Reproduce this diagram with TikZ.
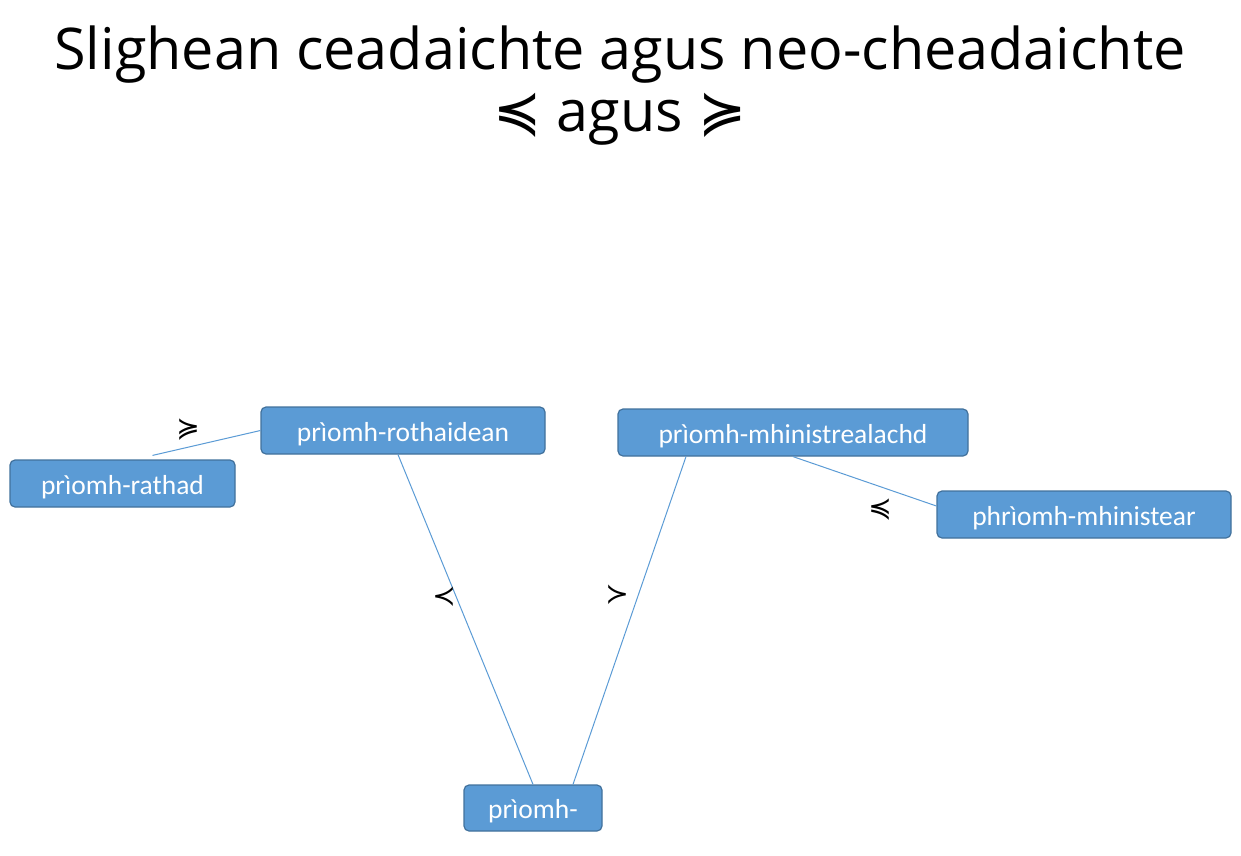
\documentclass[tikz,border=0pt]{standalone}
\usepackage{fontspec}
\setmainfont{Open Sans}
\newfontfamily\boxfont{Carlito}
\newfontfamily\symfont{DejaVu Sans}

\newcommand*{\picw}{1241}
\newcommand*{\pich}{855}

\begin{document}
\begin{tikzpicture}
[
	x=1pt, y=-1pt,
	termbox/.style={rectangle,draw=boxedge,fill=boxfill,rounded corners=5pt,
		line width=1.2pt,minimum height=47,inner sep=0pt,text=white,
		text height=23pt,text depth=2pt,
		font=\boxfont\fontsize{27.5}{32}\selectfont},
	link/.style={draw=boxfill,line width=1pt},
	rel/.style={font=\symfont\fontsize{28}{32}\selectfont}
]
	\definecolor{boxfill}{HTML}{5B9BD5}
	\definecolor{boxedge}{HTML}{41719C}

	% canvas
	\useasboundingbox (0,0) rectangle (\picw,\pich);

	% title
	\node[align=center,font=\fontsize{57.5}{62}\selectfont] (title) at (620,86)
		{Slighean ceadaichte agus neo-cheadaichte\\{\symfont ≼} agus {\symfont ≽}};

	% boxes
	\node[termbox,minimum width=225] (rathad) at (122.5,483.5) {prìomh-rathad};
	\node[termbox,minimum width=284] (rothaidean) at (403,430.5) {prìomh-rothaidean};
	\node[termbox,minimum width=350] (mhinistrealachd) at (793,432.5) {prìomh-mhinistrealachd};
	\node[termbox,minimum width=294] (mhinistear) at (1084,514.5) {phrìomh-mhinistear};
	\node[termbox,minimum width=138,minimum height=46] (priomh) at (533,808) {prìomh-};

	% links
	\draw[link] ([xshift=30,yshift=4]rathad.north) -- (rothaidean.west);
	\draw[link] ([xshift=-5]rothaidean.south) -- (priomh.north);
	\draw[link] ([xshift=-107]mhinistrealachd.south) -- ([xshift=40]priomh.north);
	\draw[link] (mhinistrealachd.south) -- ([yshift=8.5]mhinistear.west);

	% relation signs
	\node[rel] (r1) at (188,430) {≽};
	\node[rel] (r2) at (444,597) {≺};
	\node[rel] (r3) at (617,595) {≻};
	\node[rel] (r4) at (880,510) {≼};

\end{tikzpicture}
\end{document}
